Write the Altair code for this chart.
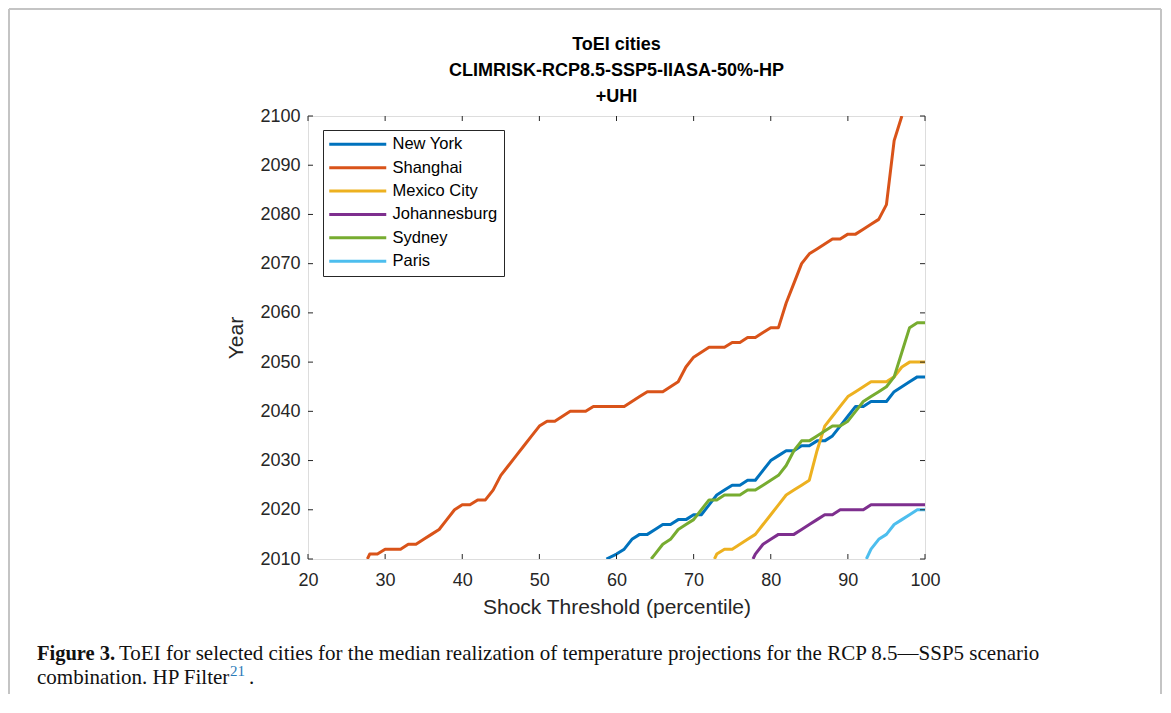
import altair as alt
import pandas as pd

cities = ["New York", "Shanghai", "Mexico City", "Johannesburg", "Sydney", "Paris"]
colors = ["#0072BD", "#D95319", "#EDB120", "#7E2F8E", "#77AC30", "#4DBEEE"]

ny_p = [58.7, 60, 61, 62, 63, 64, 65, 66, 67, 68, 69, 70, 71, 72, 73, 74, 75, 76, 77, 78, 79,
        80, 81, 82, 83, 84, 85, 86, 87, 88, 89, 90, 91, 92, 93, 94, 95, 96, 97, 98, 99, 100]
ny_y = [2010, 2011, 2012, 2014, 2015, 2015, 2016, 2017, 2017, 2018, 2018, 2019, 2019, 2021, 2023,
        2024, 2025, 2025, 2026, 2026, 2028, 2030, 2031, 2032, 2032, 2033, 2033, 2034, 2034, 2035,
        2037, 2039, 2041, 2041, 2042, 2042, 2042, 2044, 2045, 2046, 2047, 2047]

sh_p = [27.7, 28, 29, 30, 31, 32, 33, 34, 35, 36, 37, 38, 39, 40, 41, 42, 43, 44, 45, 46, 47, 48,
        49, 50, 51, 52, 53, 54, 55, 56, 57, 58, 59, 60, 61, 62, 63, 64, 65, 66, 67, 68, 69, 70,
        71, 72, 73, 74, 75, 76, 77, 78, 79, 80, 81, 82, 83, 84, 85, 86, 87, 88, 89, 90, 91, 92,
        93, 94, 95, 96, 97]
sh_y = [2010, 2011, 2011, 2012, 2012, 2012, 2013, 2013, 2014, 2015, 2016, 2018, 2020, 2021, 2021,
        2022, 2022, 2024, 2027, 2029, 2031, 2033, 2035, 2037, 2038, 2038, 2039, 2040, 2040, 2040,
        2041, 2041, 2041, 2041, 2041, 2042, 2043, 2044, 2044, 2044, 2045, 2046, 2049, 2051, 2052,
        2053, 2053, 2053, 2054, 2054, 2055, 2055, 2056, 2057, 2057, 2062, 2066, 2070, 2072, 2073,
        2074, 2075, 2075, 2076, 2076, 2077, 2078, 2079, 2082, 2095, 2100]

mx_p = [72.7, 73, 74, 75, 76, 77, 78, 79, 80, 81, 82, 83, 84, 85, 86, 87, 88, 89, 90, 91, 92, 93,
        94, 95, 96, 97, 98, 99, 100]
mx_y = [2010, 2011, 2012, 2012, 2013, 2014, 2015, 2017, 2019, 2021, 2023, 2024, 2025, 2026, 2032,
        2037, 2039, 2041, 2043, 2044, 2045, 2046, 2046, 2046, 2047, 2049, 2050, 2050, 2050]

jo_p = [77.7, 78, 79, 80, 81, 82, 83, 84, 85, 86, 87, 88, 89, 90, 91, 92, 93, 94, 95, 96, 97, 98,
        99, 100]
jo_y = [2010, 2011, 2013, 2014, 2015, 2015, 2015, 2016, 2017, 2018, 2019, 2019, 2020, 2020, 2020,
        2020, 2021, 2021, 2021, 2021, 2021, 2021, 2021, 2021]

sy_p = [64.5, 65, 66, 67, 68, 69, 70, 71, 72, 73, 74, 75, 76, 77, 78, 79, 80, 81, 82, 83, 84, 85,
        86, 87, 88, 89, 90, 91, 92, 93, 94, 95, 96, 97, 98, 99, 100]
sy_y = [2010, 2011, 2013, 2014, 2016, 2017, 2018, 2020, 2022, 2022, 2023, 2023, 2023, 2024, 2024,
        2025, 2026, 2027, 2029, 2032, 2034, 2034, 2035, 2036, 2037, 2037, 2038, 2040, 2042, 2043,
        2044, 2045, 2047, 2052, 2057, 2058, 2058]

pa_p = [92.4, 93, 94, 95, 96, 97, 98, 99, 100]
pa_y = [2010, 2012, 2014, 2015, 2017, 2018, 2019, 2020, 2020]

x_ticks = [20, 30, 40, 50, 60, 70, 80, 90, 100]
y_ticks = [2010, 2020, 2030, 2040, 2050, 2060, 2070, 2080, 2090, 2100]

title_lines = ["ToEI cities", "CLIMRISK-RCP8.5-SSP5-IIASA-50%-HP", "+UHI"]
caption_bold = "Figure 3."
caption_1 = "ToEI for selected cities for the median realization of temperature projections for the RCP 8.5\u2014SSP5 scenario"
caption_2 = "combination. HP Filter"
caption_ref = "21"

series = [(cities[0], ny_p, ny_y), (cities[1], sh_p, sh_y), (cities[2], mx_p, mx_y),
          (cities[3], jo_p, jo_y), (cities[4], sy_p, sy_y), (cities[5], pa_p, pa_y)]
rows = []
for name, ps, ys in series:
    for i, (p, y) in enumerate(zip(ps, ys)):
        rows.append({"city": name, "p": p, "year": y, "order": i})
df = pd.DataFrame(rows)

W, H = 617, 443
FONT = "Liberation Sans"
AX = "#262626"

xs = alt.Scale(domain=[20, 100], nice=False, zero=False)
ys = alt.Scale(domain=[2010, 2100], nice=False, zero=False)

x_axis = alt.Axis(values=x_ticks, title="Shock Threshold (percentile)", grid=False,
                  ticks=False, domain=False, labelFontSize=18, labelFont=FONT,
                  labelColor=AX, labelPadding=12, labelFlush=False, labelOverlap=False,
                  titleFont=FONT, titleFontSize=21,
                  titleFontWeight="normal", titleColor=AX, titlePadding=7)
y_axis = alt.Axis(values=y_ticks, format="d", title="Year", grid=False, ticks=False,
                  domain=False, labelFontSize=18, labelFont=FONT, labelColor=AX,
                  labelPadding=8, labelFlush=False, labelOverlap=False,
                  titleFont=FONT, titleFontSize=21,
                  titleFontWeight="normal", titleColor=AX, titlePadding=13)

lines = alt.Chart(df).mark_line(strokeWidth=3, clip=True, strokeJoin="round").encode(
    x=alt.X("p:Q", scale=xs, axis=x_axis),
    y=alt.Y("year:Q", scale=ys, axis=y_axis),
    color=alt.Color("city:N", scale=alt.Scale(domain=cities, range=colors),
                    legend=alt.Legend(title=None, orient="none", legendX=15, legendY=14,
                                      symbolType="M-1.6,0H9.8", symbolSize=100,
                                      symbolStrokeWidth=3, labelFontSize=16.5, labelFont=FONT,
                                      labelColor="#000000", strokeColor=AX, fillColor="white",
                                      padding=6, rowPadding=6.4, labelOffset=47)),
    order="order:Q",
    detail="city:N",
)

xt = pd.DataFrame({"p": x_ticks})
yt = pd.DataFrame({"year": y_ticks})
tick_style = dict(color=AX, strokeWidth=1)
xb = alt.Chart(xt).mark_rule(**tick_style).encode(
    x=alt.X("p:Q", scale=xs, axis=x_axis), y=alt.value(H), y2=alt.value(H - 5))
xtop = alt.Chart(xt).mark_rule(**tick_style).encode(
    x=alt.X("p:Q", scale=xs, axis=x_axis), y=alt.value(0), y2=alt.value(5))
yl = alt.Chart(yt).mark_rule(**tick_style).encode(
    y=alt.Y("year:Q", scale=ys, axis=y_axis), x=alt.value(0), x2=alt.value(5))
yr = alt.Chart(yt).mark_rule(**tick_style).encode(
    y=alt.Y("year:Q", scale=ys, axis=y_axis), x=alt.value(W), x2=alt.value(W - 5))

one = pd.DataFrame({"k": [0]})
frame_col = "#c4c4c4"
fl = alt.Chart(one).mark_rule(color=frame_col, strokeWidth=2).encode(
    x=alt.value(-299), y=alt.value(-107), y2=alt.value(578))
ft = alt.Chart(one).mark_rule(color=frame_col, strokeWidth=2).encode(
    x=alt.value(-299), x2=alt.value(853), y=alt.value(-107))
fr = alt.Chart(one).mark_rule(color=frame_col, strokeWidth=2).encode(
    x=alt.value(853), y=alt.value(-107), y2=alt.value(578))

title_layers = []
for txt, yy in zip(title_lines, [-71, -45, -19]):
    title_layers.append(
        alt.Chart(pd.DataFrame({"t": [txt]})).mark_text(
            font=FONT, fontSize=18, fontWeight="bold", align="center", baseline="middle",
            color="#000000").encode(text="t:N", x=alt.value(W / 2), y=alt.value(yy)))

SERIF = "Liberation Serif"
cap_b = alt.Chart(pd.DataFrame({"t": [caption_bold]})).mark_text(
    font=SERIF, fontSize=20.5, fontWeight="bold", align="left", baseline="alphabetic",
    color="#111111").encode(text="t:N", x=alt.value(-271), y=alt.value(544))
cap_1 = alt.Chart(pd.DataFrame({"t": [caption_1]})).mark_text(
    font=SERIF, fontSize=21, align="left", baseline="alphabetic",
    color="#111111").encode(text="t:N", x=alt.value(-189), y=alt.value(544))
cap_2 = alt.Chart(pd.DataFrame({"t": [caption_2]})).mark_text(
    font=SERIF, fontSize=21, align="left", baseline="alphabetic",
    color="#111111").encode(text="t:N", x=alt.value(-271), y=alt.value(568))
cap_r = alt.Chart(pd.DataFrame({"t": [caption_ref]})).mark_text(
    font=SERIF, fontSize=15, align="left", baseline="alphabetic",
    color="#2a7ab8").encode(text="t:N", x=alt.value(-78), y=alt.value(560))
cap_d = alt.Chart(pd.DataFrame({"t": ["."]})).mark_text(
    font=SERIF, fontSize=21, align="left", baseline="alphabetic",
    color="#111111").encode(text="t:N", x=alt.value(-59), y=alt.value(568))

chart = alt.layer(
    lines, xb, xtop, yl, yr, fl, ft, fr, *title_layers, cap_b, cap_1, cap_2, cap_r, cap_d
).properties(
    width=W, height=H, padding=0,
).configure_view(stroke=AX, strokeWidth=1).configure(background="white")

chart.save("out.html", embed_options={"renderer": "svg", "actions": False})
